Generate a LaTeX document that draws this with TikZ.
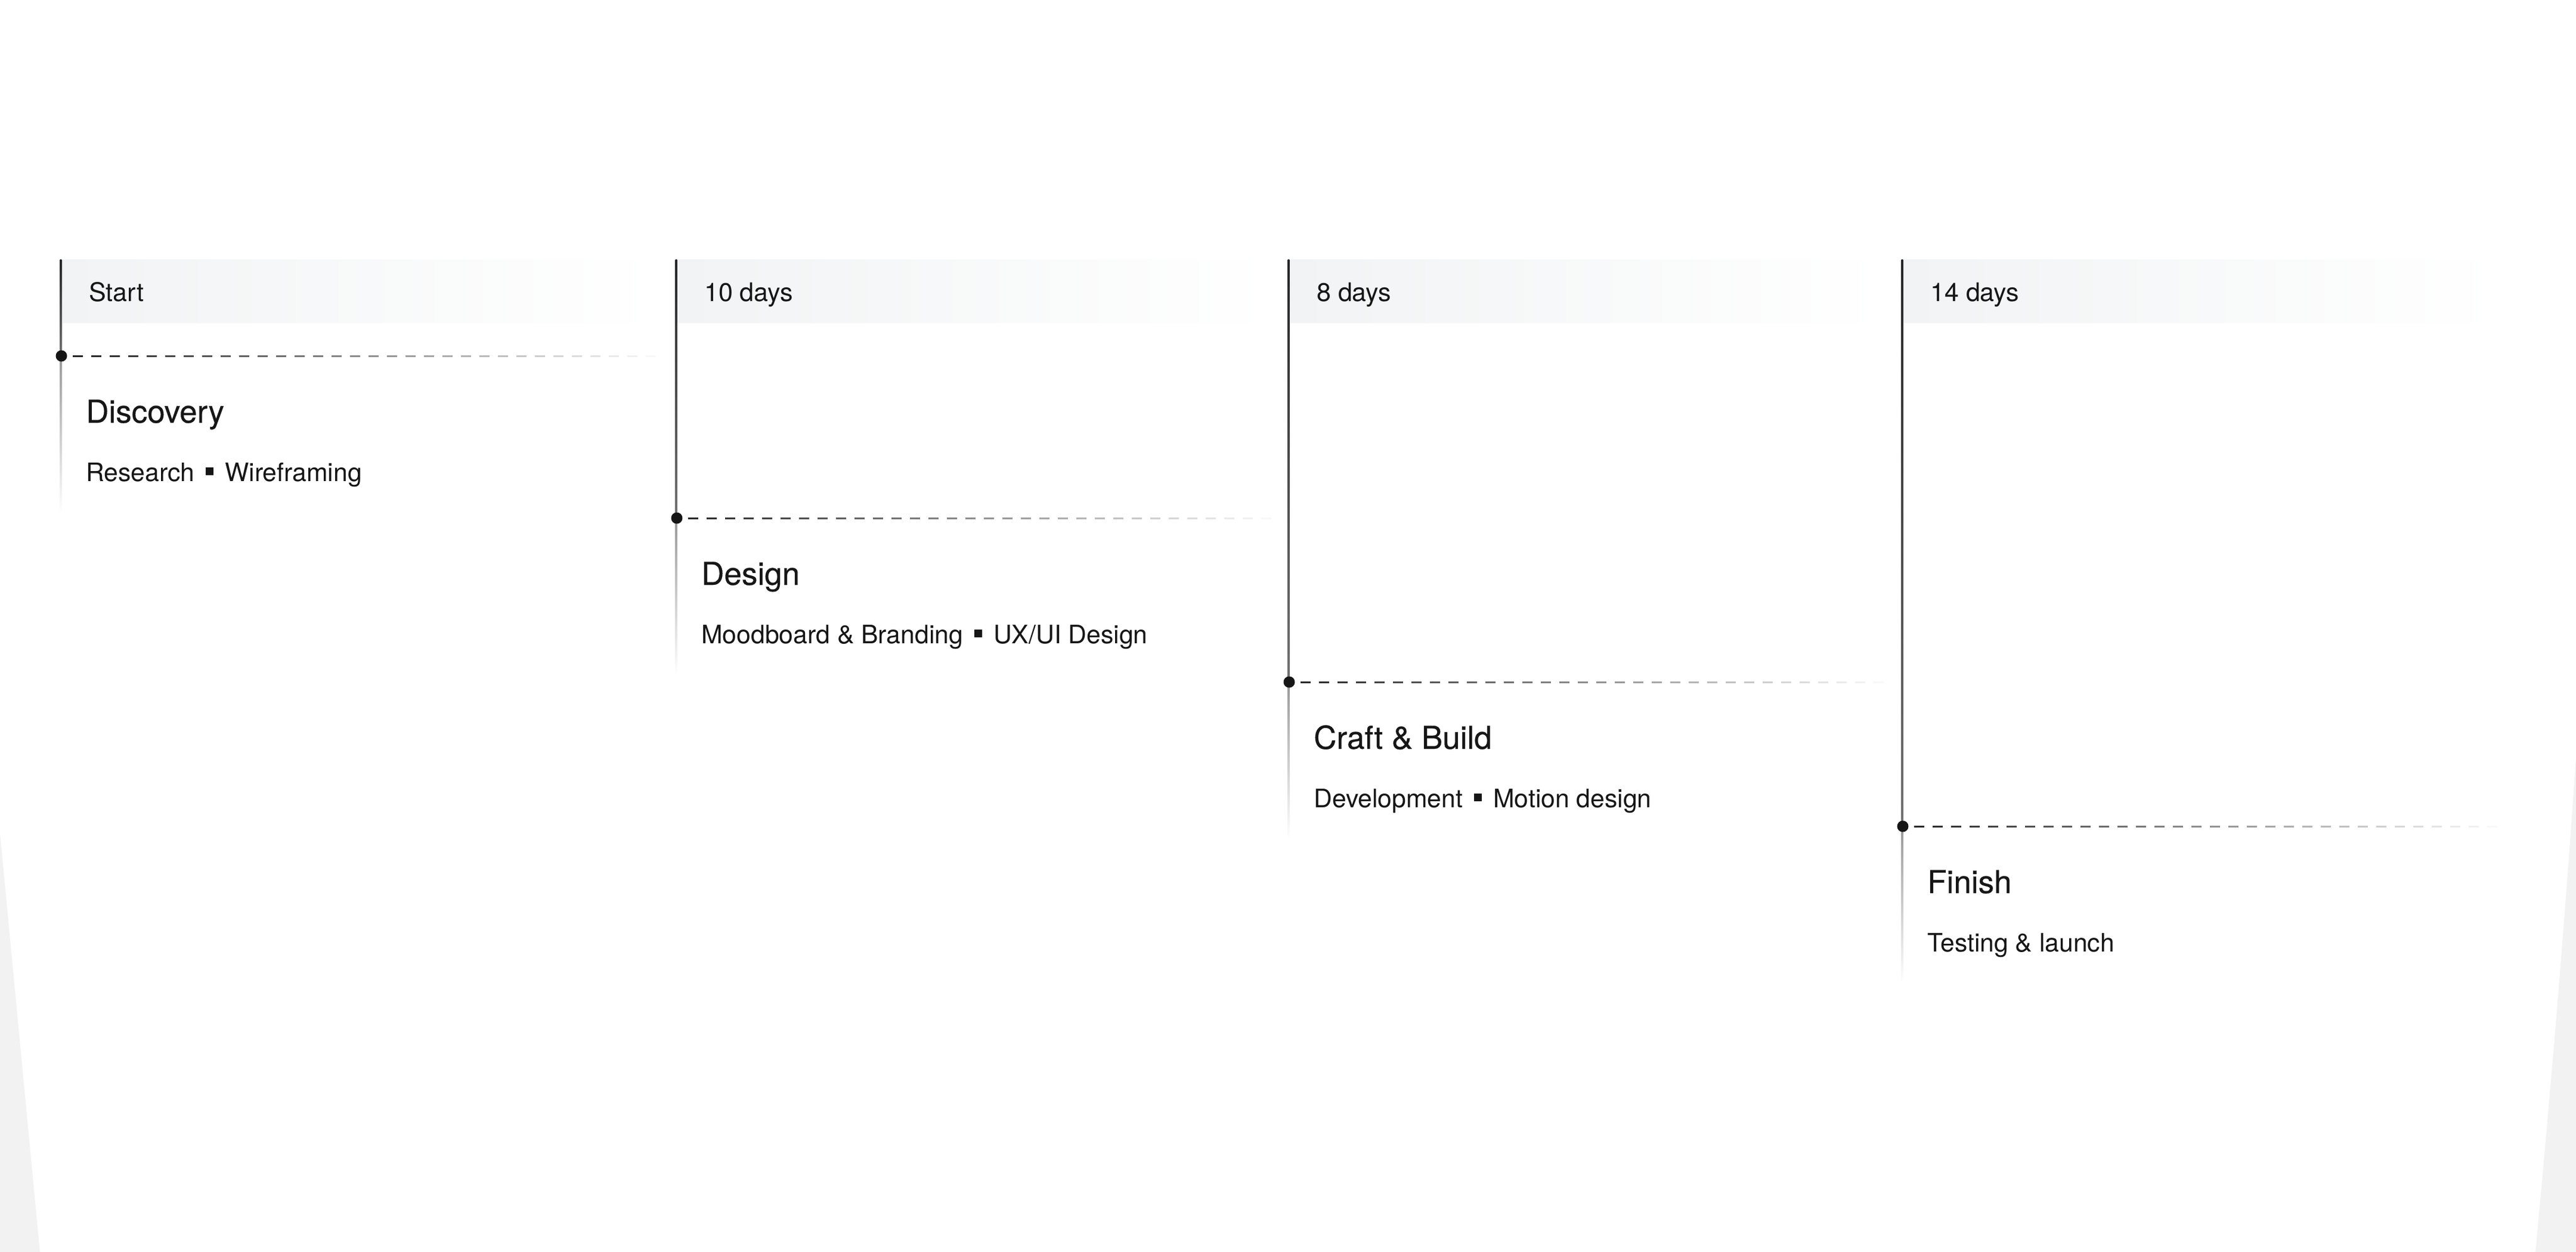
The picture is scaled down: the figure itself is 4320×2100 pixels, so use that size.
\documentclass[tikz,border=0pt]{standalone}
\usepackage{fontspec}
\setmainfont{TeX Gyre Heros}
\newfontfamily\medfont[FakeBold=0.35]{TeX Gyre Heros}
\definecolor{ink}{HTML}{161616}
\definecolor{hdr}{HTML}{F1F3F4}
\definecolor{bgg}{HTML}{F2F2F2}
\definecolor{rulec}{HTML}{262626}
\newcommand\stepsq{\hspace{19pt}\rule[10pt]{13pt}{13pt}\hspace{19pt}}
\begin{document}
\begin{tikzpicture}[x=1pt,y=-1pt,
  hdrtext/.style={anchor=base west, inner sep=0pt, text=ink, font=\fontsize{43}{50}\selectfont},
  titletext/.style={anchor=base west, inner sep=0pt, text=ink, font=\medfont\fontsize{53}{62}\selectfont},
  subtext/.style={anchor=base west, inner sep=0pt, text=ink, font=\fontsize{42.7}{50}\selectfont},
  milestone/.style={circle, fill=ink, draw=none, inner sep=0pt, minimum size=19pt},
  dashseg/.style={line width=3pt, draw=rulec}]
\useasboundingbox (0,0) rectangle (4320,2100);
\fill[white] (0,0) rectangle (4320,2100);
% grey corners of the backdrop
\fill[bgg] (0,1398) -- (67,2100) -- (0,2100) -- cycle;
\fill[bgg] (4320,1270) .. controls (4300,1560) and (4280,1800) .. (4252,2100) -- (4320,2100) -- cycle;
\foreach \cx/\dy/\hd/\ti/\su/\nm in {
  102/597/Start/Discovery/{Research\stepsq Wireframing}/a,
  1134/869/10 days/Design/{Moodboard \& Branding\stepsq UX/UI Design}/b,
  2161/1144/8 days/Craft \& Build/{Development\stepsq Motion design}/c,
  3190/1386/14 days/Finish/{Testing \& launch}/d}{
  % header band
  \shade[left color=hdr, right color=white] ({\cx+1},435) rectangle ({\cx+1000},541);
  % vertical line
  \shade[top color=black!85, bottom color=black!55] ({\cx-1.3},435) rectangle ({\cx+1.3},\dy);
  \shade[top color=black!40, bottom color=white] ({\cx-1.3},\dy) rectangle ({\cx+1.3},{\dy+263});
  % fading dashed line
  \coordinate (end\nm) at ({\cx+1006},\dy);
  \foreach \i in {0,...,31}{
    \pgfmathsetmacro\op{1.0*(1-\i/32)}
    \draw[dashseg, draw opacity=\op] ({\cx+20+31*\i},\dy) -- ++(17,0);
  }
  \node[milestone] (dot\nm) at ({\cx+1},\dy) {};
  \node[hdrtext] (hd\nm) at ({\cx+47},505) {\hd};
  \node[titletext] (ti\nm) at ({\cx+42},{\dy+112}) {\ti};
  \node[subtext] (su\nm) at ({\cx+42},{\dy+210}) {\su};
}
\end{tikzpicture}
\end{document}
